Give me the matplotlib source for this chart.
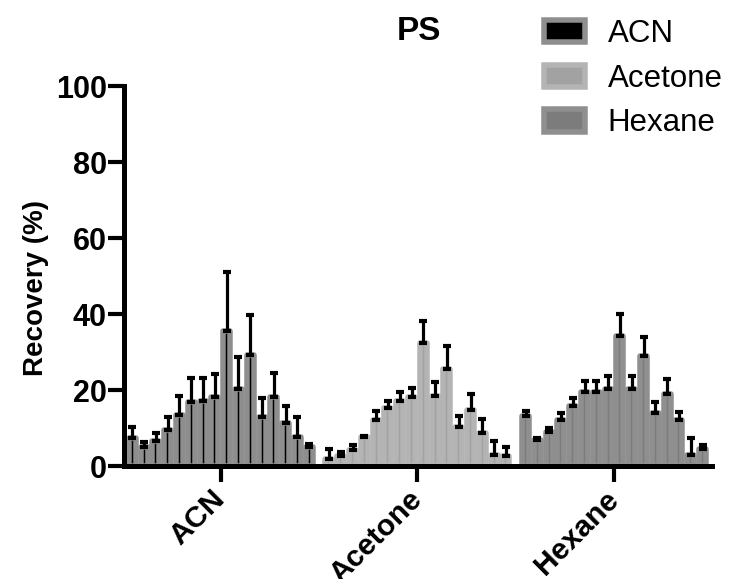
import numpy as np
import matplotlib
matplotlib.use("Agg")
import matplotlib.pyplot as plt
from matplotlib.transforms import ScaledTranslation

plt.rcParams['font.family'] = ['Liberation Sans', 'DejaVu Sans']

# Solvent groups and per-analyte recovery (%) with SD (upper error only)
groups = ["ACN", "Acetone", "Hexane"]

acn_mean = [7.4, 4.9, 6.5, 9.6, 13.5, 16.8, 17.0, 18.1, 35.7, 20.4, 29.2, 12.8, 18.1, 11.3, 7.6, 4.9]
acn_sd = [2.8, 1.5, 2.1, 3.4, 4.9, 6.3, 6.1, 6.2, 15.3, 8.2, 10.6, 5.2, 6.3, 4.6, 5.2, 0.9]

acetone_mean = [1.8, 2.7, 4.3, 7.6, 12.2, 15.3, 17.0, 18.2, 32.4, 18.4, 25.6, 10.3, 14.8, 8.7, 3.0, 2.7]
acetone_sd = [2.6, 0.9, 1.3, 0.4, 2.4, 1.9, 2.6, 2.3, 5.7, 3.7, 6.1, 2.9, 4.1, 3.6, 3.5, 2.2]

hexane_mean = [13.1, 6.8, 8.9, 12.2, 15.7, 19.4, 19.4, 20.3, 34.3, 20.3, 28.9, 14.0, 19.1, 12.2, 3.0, 4.5]
hexane_sd = [1.4, 0.7, 1.1, 1.7, 2.1, 3.1, 3.1, 3.5, 5.7, 3.5, 5.0, 2.8, 3.9, 1.9, 4.5, 1.1]

y_ticks = [0, 20, 40, 60, 80, 100]

series = [
    (acn_mean, acn_sd, "black", "#8e8e8e"),
    (acetone_mean, acetone_sd, "#a2a2a2", "#b4b4b4"),
    (hexane_mean, hexane_sd, "#7c7c7c", "#8f8f8f"),
]

W, H, DPI = 729, 579, 100
fig = plt.figure(figsize=(W / DPI, H / DPI), dpi=DPI)
ax = fig.add_axes([124 / W, 113 / H, (712 - 124) / W, (492.5 - 113) / H])

pitch = 0.06          # spacing between adjacent bars within a group
bar_w = 0.0356        # drawn width; thick edges fill the rest
edge_lw = 3.96        # points

containers = []
for g, (mean, sd, face, edge) in enumerate(series):
    n = len(mean)
    x = g + (np.arange(n) - (n - 1) / 2) * pitch
    bc = ax.bar(x, mean, width=bar_w, color=face, edgecolor=edge,
                linewidth=edge_lw, joinstyle='round', zorder=1)
    containers.append(bc)
    ax.errorbar(x, mean, yerr=[np.zeros(n), sd], fmt='none',
                ecolor='black', elinewidth=2.3, capsize=3.0,
                capthick=3.0, zorder=2)

ax.set_xlim(-0.492, 2.498)
ax.set_ylim(0, 100)
ax.set_yticks(y_ticks)
ax.set_yticklabels([str(t) for t in y_ticks], fontsize=22, fontweight='bold')
ax.set_xticks(range(len(groups)))
ax.tick_params(axis='x', labelbottom=False)

# rotated group names, hung just below each tick
label_tf = ax.get_xaxis_transform() + ScaledTranslation(-10 / DPI, -19 / DPI,
                                                        fig.dpi_scale_trans)
for g, name in enumerate(groups):
    ax.text(g, 0, name, transform=label_tf, fontsize=21.5, fontweight='bold',
            rotation=45, ha='right', va='top', rotation_mode='anchor',
            clip_on=False)

for side in ('top', 'right'):
    ax.spines[side].set_visible(False)
for side in ('left', 'bottom'):
    ax.spines[side].set_linewidth(3.6)
    ax.spines[side].set_capstyle('projecting')
ax.tick_params(axis='both', which='major', length=11.5, width=3.0, color='black')
ax.tick_params(axis='y', pad=1)

ax.set_ylabel("Recovery (%)", fontsize=20, fontweight='bold', va='center')
ax.yaxis.set_label_coords(-0.15, 0.468)

fig.text(419 / W, 1 - 31 / H, "PS", ha='center', va='center',
         fontsize=24, fontweight='bold')

fs = 22.5
fs_px = fs * DPI / 72
leg = ax.legend(containers, groups, loc='upper left',
                bbox_to_anchor=(543.5 / W, 1 - 19 / H), bbox_transform=fig.transFigure,
                frameon=False, fontsize=fs, borderpad=0, borderaxespad=0,
                handlelength=41.5 / fs_px, handleheight=22.5 / fs_px,
                handletextpad=0.72, labelspacing=0.47)

fig.savefig("out.png", dpi=DPI)
